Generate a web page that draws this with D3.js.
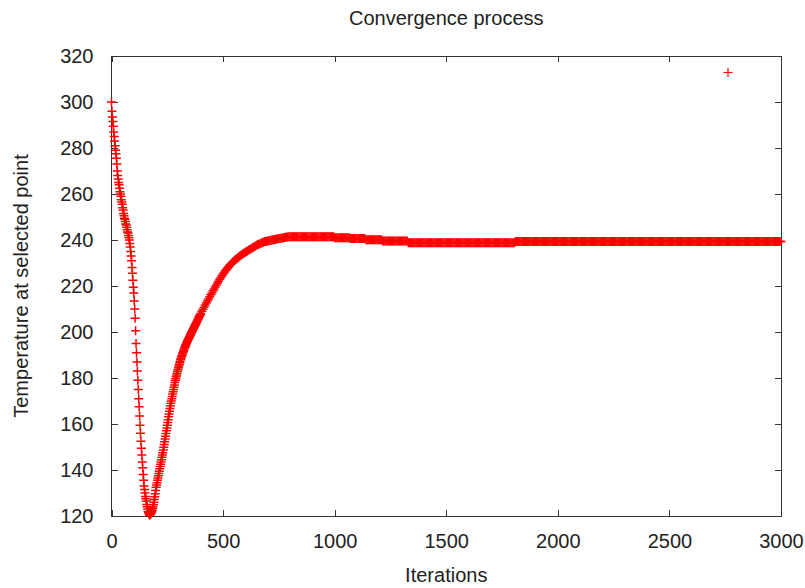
<!DOCTYPE html>
<html>
<head>
<meta charset="utf-8">
<script src="https://cdn.jsdelivr.net/npm/d3@7"></script>
<style>
  body { margin: 0; background: #fff; }
  svg { display: block; font-family: "Liberation Sans", Arial, sans-serif; }
</style>
</head>
<body>
<svg id="chart"></svg>
<script>
// values
const title = "Convergence process";
const xLabel = "Iterations";
const yLabel = "Temperature at selected point";
const seriesTitle = "";

const xTicks = [0, 500, 1000, 1500, 2000, 2500, 3000];
const yTicks = [120, 140, 160, 180, 200, 220, 240, 260, 280, 300, 320];

// falling branch, one reading every 2 iterations from 0
const dropStart = 0;
const dropStep = 2;
const dropTemps = [
  300, 296, 293.5, 291.5, 289.5, 287, 285, 283, 281, 279,
  277.5, 275.5, 273, 270, 268, 266.5, 265, 264, 262.5, 261,
  260, 259, 257.5, 256.5, 255.5, 254, 253, 251.5, 250.5, 249.5,
  249, 248, 247, 246.5, 245.5, 244.5, 243.5, 243, 242, 241,
  240, 238.5, 237, 235, 233, 231, 228, 225.5, 222.5, 219.5,
  217, 213.5, 210, 206, 200.5, 195, 191, 187, 183, 179,
  175, 171, 167.5, 163.5, 159.5, 156, 152.5, 149.5, 146.5, 143.5,
  141, 138, 135.5, 133, 131.5, 130, 128.5, 127.5, 126.5, 125,
  124, 123, 122, 121.5, 121
];

// steep rise, one reading every 2 iterations from 170
const riseStart = 170;
const riseStep = 2;
const riseTemps = [
  120.4, 120.5, 120.7, 121, 121.4, 121.8, 122.4, 123.1, 123.9, 124.9,
  126, 127.2, 128.4, 129.7, 131.1, 132.5, 133.5, 134.5, 135.5, 136.5,
  137.5, 138.5, 139.5, 140.5, 141.5, 142.5, 143.5, 144.5, 145.5, 146.5,
  147.5, 148.7, 149.9, 151.1, 152.3, 153.5, 154.7, 155.9, 157.1, 158.3,
  159.5, 160.7, 161.9, 163.1, 164.3, 165.5, 166.7, 167.9, 169, 170,
  171, 172, 173, 174, 175, 176, 177, 178, 178.9, 179.7,
  180.5, 181.3, 182.1, 182.9, 183.7, 184.5, 185.2, 185.9, 186.6, 187.3,
  188, 188.6, 189.2, 189.8, 190.4, 191, 191.5, 192, 192.6, 193.1,
  193.6, 194.1, 194.6, 195, 195.5, 196, 196.4, 196.8, 197.2, 197.6,
  198, 198.4, 198.8, 199.2, 199.6, 200, 200.4, 200.8, 201.2, 201.6,
  202, 202.4, 202.8, 203.2, 203.6, 204, 204.4, 204.8, 205.2, 205.6,
  206, 206.4, 206.8, 207.2, 207.6
];

// slower climb, one reading every 5 iterations from 400
const climbStart = 400;
const climbStep = 5;
const climbTemps = [
  208, 209, 209.9, 210.8, 211.7, 212.6, 213.5, 214.4, 215.3, 216.2,
  217, 217.9, 218.7, 219.6, 220.4, 221.3, 222.1, 222.9, 223.7, 224.5,
  225.2, 225.9, 226.6, 227.2, 227.8, 228.4, 229, 229.5, 230, 230.5,
  231, 231.4, 231.8, 232.2, 232.6, 233, 233.4, 233.7, 234.1, 234.4,
  234.7, 235, 235.3, 235.6, 235.9, 236.2, 236.5, 236.8, 237.1, 237.4,
  237.7, 238, 238.2, 238.4, 238.6, 238.8, 239, 239.2, 239.3, 239.5,
  239.6, 239.7, 239.8, 239.9, 240, 240.1, 240.2, 240.3, 240.4, 240.5,
  240.6, 240.7, 240.8, 240.9, 241, 241.1, 241.2, 241.3, 241.3, 241.4
];

// settled part: readings every 5 iterations from 800, as [temperature, how many readings]
const plateauStart = 800;
const plateauStep = 5;
const plateauRuns = [
  [241.4, 40],
  [241.0, 14],
  [240.6, 14],
  [240.1, 15],
  [239.6, 23],
  [238.8, 96],
  [239.4, 239]
];

const width = 805;
const height = 588;
const margin = { top: 56, right: 24, bottom: 72, left: 111.5 };
const tickLen = 6;
const arm = 4.5;
const red = "#ff0000";
const ink = "#333";

const points = [];
dropTemps.forEach((t, i) => points.push({ it: dropStart + i * dropStep, t: t }));
riseTemps.forEach((t, i) => points.push({ it: riseStart + i * riseStep, t: t }));
climbTemps.forEach((t, i) => points.push({ it: climbStart + i * climbStep, t: t }));
let it = plateauStart;
plateauRuns.forEach(([t, n]) => {
  for (let k = 0; k < n; k++) {
    points.push({ it: it, t: t });
    it += plateauStep;
  }
});

const svg = d3
  .select("#chart")
  .attr("width", width)
  .attr("height", height)
  .attr("viewBox", `0 0 ${width} ${height}`);

const x = d3
  .scaleLinear()
  .domain([0, 3000])
  .range([margin.left, width - margin.right]);

const y = d3
  .scaleLinear()
  .domain([120, 320])
  .range([height - margin.bottom, margin.top]);

const plotW = x.range()[1] - x.range()[0];
const plotH = y.range()[0] - y.range()[1];

const styleAxis = (g) => {
  g.select(".domain").remove();
  g.selectAll(".tick line").attr("stroke", ink).attr("shape-rendering", "crispEdges");
  g.selectAll(".tick text")
    .attr("fill", "#222")
    .style("font-size", "20px")
    .style("font-family", '"Liberation Sans", Arial, sans-serif');
};

// bottom and left axes, ticks pointing inwards
svg
  .append("g")
  .attr("transform", `translate(0, ${y(120)})`)
  .call(
    d3.axisBottom(x).tickValues(xTicks).tickFormat(d3.format("d"))
      .tickSizeInner(-tickLen).tickSizeOuter(0).tickPadding(18)
  )
  .call(styleAxis);

svg
  .append("g")
  .attr("transform", `translate(${x(0)}, 0)`)
  .call(
    d3.axisLeft(y).tickValues(yTicks).tickFormat(d3.format("d"))
      .tickSizeInner(-tickLen).tickSizeOuter(0).tickPadding(18)
  )
  .call(styleAxis);

// mirrored ticks on top and right
svg
  .append("g")
  .attr("transform", `translate(0, ${y(320)})`)
  .call(d3.axisTop(x).tickValues(xTicks).tickSizeInner(-tickLen).tickSizeOuter(0).tickFormat(""))
  .call(styleAxis);

svg
  .append("g")
  .attr("transform", `translate(${x(3000)}, 0)`)
  .call(d3.axisRight(y).tickValues(yTicks).tickSizeInner(-tickLen).tickSizeOuter(0).tickFormat(""))
  .call(styleAxis);

// border
svg
  .append("rect")
  .attr("x", x(0))
  .attr("y", y(320))
  .attr("width", plotW)
  .attr("height", plotH)
  .attr("fill", "none")
  .attr("stroke", ink)
  .attr("shape-rendering", "crispEdges");

// data points drawn as "+"
const plus = (cx, cy) => `M${cx - arm},${cy}h${2 * arm}M${cx},${cy - arm}v${2 * arm}`;

svg
  .append("g")
  .selectAll("path")
  .data(points)
  .enter()
  .append("path")
  .attr("d", (d) => plus(x(d.it), y(d.t)))
  .attr("fill", "none")
  .attr("stroke", red)
  .attr("stroke-width", 1.5);

// key: sample symbol with an empty title
const key = svg
  .append("g")
  .attr("transform", `translate(${x(3000) - 53}, ${y(320) + 16.5})`);

key
  .append("path")
  .attr("d", plus(0, 0))
  .attr("fill", "none")
  .attr("stroke", red)
  .attr("stroke-width", 1.2);

key
  .append("text")
  .attr("x", -18)
  .attr("dy", "0.35em")
  .attr("text-anchor", "end")
  .style("font-size", "20px")
  .text(seriesTitle);

// titles
svg
  .append("text")
  .attr("x", (x.range()[0] + x.range()[1]) / 2)
  .attr("y", 25)
  .attr("text-anchor", "middle")
  .attr("fill", "#222")
  .style("font-size", "20px")
  .text(title);

svg
  .append("text")
  .attr("x", (x.range()[0] + x.range()[1]) / 2)
  .attr("y", 582)
  .attr("text-anchor", "middle")
  .attr("fill", "#222")
  .style("font-size", "20px")
  .text(xLabel);

svg
  .append("text")
  .attr("transform", `translate(28, ${(y.range()[0] + y.range()[1]) / 2}) rotate(-90)`)
  .attr("text-anchor", "middle")
  .attr("fill", "#222")
  .style("font-size", "20px")
  .text(yLabel);
</script>
</body>
</html>
